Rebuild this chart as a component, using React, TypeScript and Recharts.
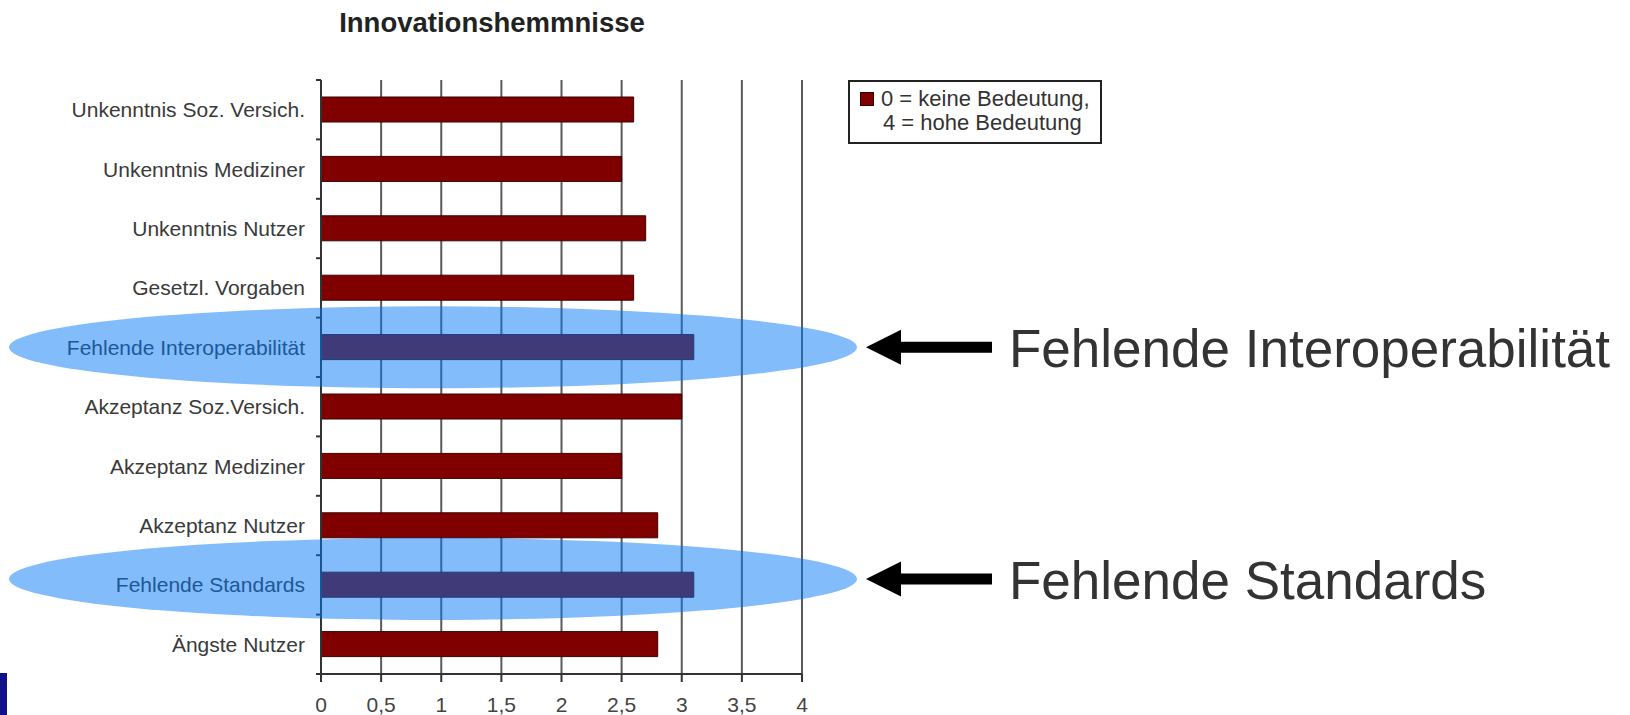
import React from 'react';
import {
  BarChart,
  Bar,
  XAxis,
  YAxis,
  CartesianGrid,
  Legend,
  ReferenceDot,
} from 'recharts';

const categories = [
  'Unkenntnis Soz. Versich.',
  'Unkenntnis Mediziner',
  'Unkenntnis Nutzer',
  'Gesetzl. Vorgaben',
  'Fehlende Interoperabilität',
  'Akzeptanz Soz.Versich.',
  'Akzeptanz Mediziner',
  'Akzeptanz Nutzer',
  'Fehlende Standards',
  'Ängste Nutzer',
];
const values = [2.6, 2.5, 2.7, 2.6, 3.1, 3.0, 2.5, 2.8, 3.1, 2.8];
const xTicks = [0, 0.5, 1, 1.5, 2, 2.5, 3, 3.5, 4];
const highlighted = ['Fehlende Interoperabilität', 'Fehlende Standards'];
const highlightShift = [0, -6]; // small vertical nudge per annotation
const legendLines = ['0 = keine Bedeutung,', '4 = hohe Bedeutung'];
const title = 'Innovationshemmnisse';

const data = categories.map((name, i) => ({ name, value: values[i] }));

const FONT = '"Liberation Sans", Arial, Helvetica, sans-serif';
const W = 1630;
const H = 715;
const PLOT_TOP = 80;
const PLOT_H = 594;
const BAND = PLOT_H / categories.length;
const Y_AXIS_W = 321;
const LABEL_GAP = 16;

// category label plus Excel-style tick marks at the band edges
const CategoryTick = (props: any) => {
  const { x, y, payload, index } = props;
  const axisX = x + LABEL_GAP;
  const half = BAND / 2;
  return (
    <g>
      <line x1={axisX - 5} x2={axisX} y1={y - half} y2={y - half} stroke="#333" strokeWidth={2} />
      {index === categories.length - 1 && (
        <line x1={axisX - 5} x2={axisX} y1={y + half} y2={y + half} stroke="#333" strokeWidth={2} />
      )}
      <text
        x={x}
        y={y}
        textAnchor="end"
        dominantBaseline="central"
        fontSize={21}
        fontFamily={FONT}
        fill="#3a3a3a"
      >
        {payload.value}
      </text>
    </g>
  );
};

const LegendBox = () => (
  <div
    style={{
      width: 254,
      height: 64,
      boxSizing: 'border-box',
      border: '2px solid #222',
      padding: '5px 0 0 10px',
      fontFamily: FONT,
      fontSize: 22,
      lineHeight: '24px',
      color: '#333',
      background: '#fff',
    }}
  >
    <div style={{ whiteSpace: 'nowrap' }}>
      <span
        style={{
          display: 'inline-block',
          width: 12,
          height: 12,
          background: '#800000',
          border: '1px solid #300',
          marginRight: 7,
          verticalAlign: 'middle',
          position: 'relative',
          top: -1,
        }}
      />
      {legendLines[0]}
    </div>
    <div style={{ whiteSpace: 'nowrap', paddingLeft: 23 }}>{legendLines[1]}</div>
  </div>
);

// translucent ellipse over the row, arrow and big caption on the right
const Highlight = (props: any) => {
  const { cx, text, shift } = props;
  const cy = props.cy + shift;
  const ex = cx + 112;
  const tip = ex + 424 + 9;
  const arrow = [
    [tip, cy],
    [tip + 35, cy - 17.5],
    [tip + 35, cy - 5.5],
    [tip + 126, cy - 5.5],
    [tip + 126, cy + 5.5],
    [tip + 35, cy + 5.5],
    [tip + 35, cy + 17.5],
  ]
    .map((p) => p.join(','))
    .join(' ');
  return (
    <g>
      <ellipse cx={ex} cy={cy} rx={424} ry={41} fill="rgb(0,119,246)" fillOpacity={0.49} />
      <polygon points={arrow} fill="#000" />
      <text x={tip + 143} y={cy + 20} fontSize={53} fontFamily={FONT} fill="#333">
        {text}
      </text>
    </g>
  );
};

export default function App() {
  return (
    <div style={{ position: 'absolute', left: 0, top: 0, width: W, height: H, background: '#fff' }}>
      <div
        style={{
          position: 'absolute',
          left: 292,
          top: 9,
          width: 400,
          textAlign: 'center',
          fontFamily: FONT,
          fontWeight: 'bold',
          fontSize: 27.5,
          lineHeight: '27px',
          color: '#222',
        }}
      >
        {title}
      </div>
      <BarChart
        width={W}
        height={H}
        data={data}
        layout="vertical"
        margin={{ top: PLOT_TOP, right: W - 802, bottom: 0, left: 0 }}
      >
        <CartesianGrid horizontal={false} stroke="#5a5a5a" strokeWidth={2} />
        <XAxis
          type="number"
          domain={[0, 4]}
          ticks={xTicks}
          interval={0}
          tickFormatter={(v: number) => String(v).replace('.', ',')}
          tick={{ fontSize: 21, fill: '#444', fontFamily: FONT }}
          tickSize={8}
          tickMargin={15}
          height={41}
          axisLine={{ stroke: '#333', strokeWidth: 2 }}
          tickLine={{ stroke: '#333', strokeWidth: 2 }}
        />
        <XAxis
          xAxisId="top"
          orientation="top"
          type="number"
          domain={[0, 4]}
          tick={false}
          tickLine={false}
          height={0}
          axisLine={{ stroke: '#888', strokeWidth: 2 }}
        />
        <YAxis
          type="category"
          dataKey="name"
          width={Y_AXIS_W}
          tick={<CategoryTick />}
          tickSize={0}
          tickMargin={LABEL_GAP}
          tickLine={false}
          interval={0}
          axisLine={{ stroke: '#333', strokeWidth: 2 }}
        />
        <Legend
          layout="vertical"
          align="center"
          verticalAlign="middle"
          wrapperStyle={{ left: 848, top: 80, width: 254, height: 64 }}
          content={<LegendBox />}
        />
        <Bar
          dataKey="value"
          fill="#800000"
          stroke="#3b0000"
          strokeWidth={1}
          barSize={25}
          isAnimationActive={false}
        />
        {highlighted.map((cat, i) => (
          <ReferenceDot
            key={cat}
            x={0}
            y={cat}
            zIndex={2500}
            ifOverflow="visible"
            shape={(p: any) => <Highlight {...p} text={cat} shift={highlightShift[i]} />}
          />
        ))}
      </BarChart>
      <div
        style={{
          position: 'absolute',
          left: 0,
          top: 673,
          width: 7,
          height: 42,
          background: '#10108a',
        }}
      />
    </div>
  );
}
